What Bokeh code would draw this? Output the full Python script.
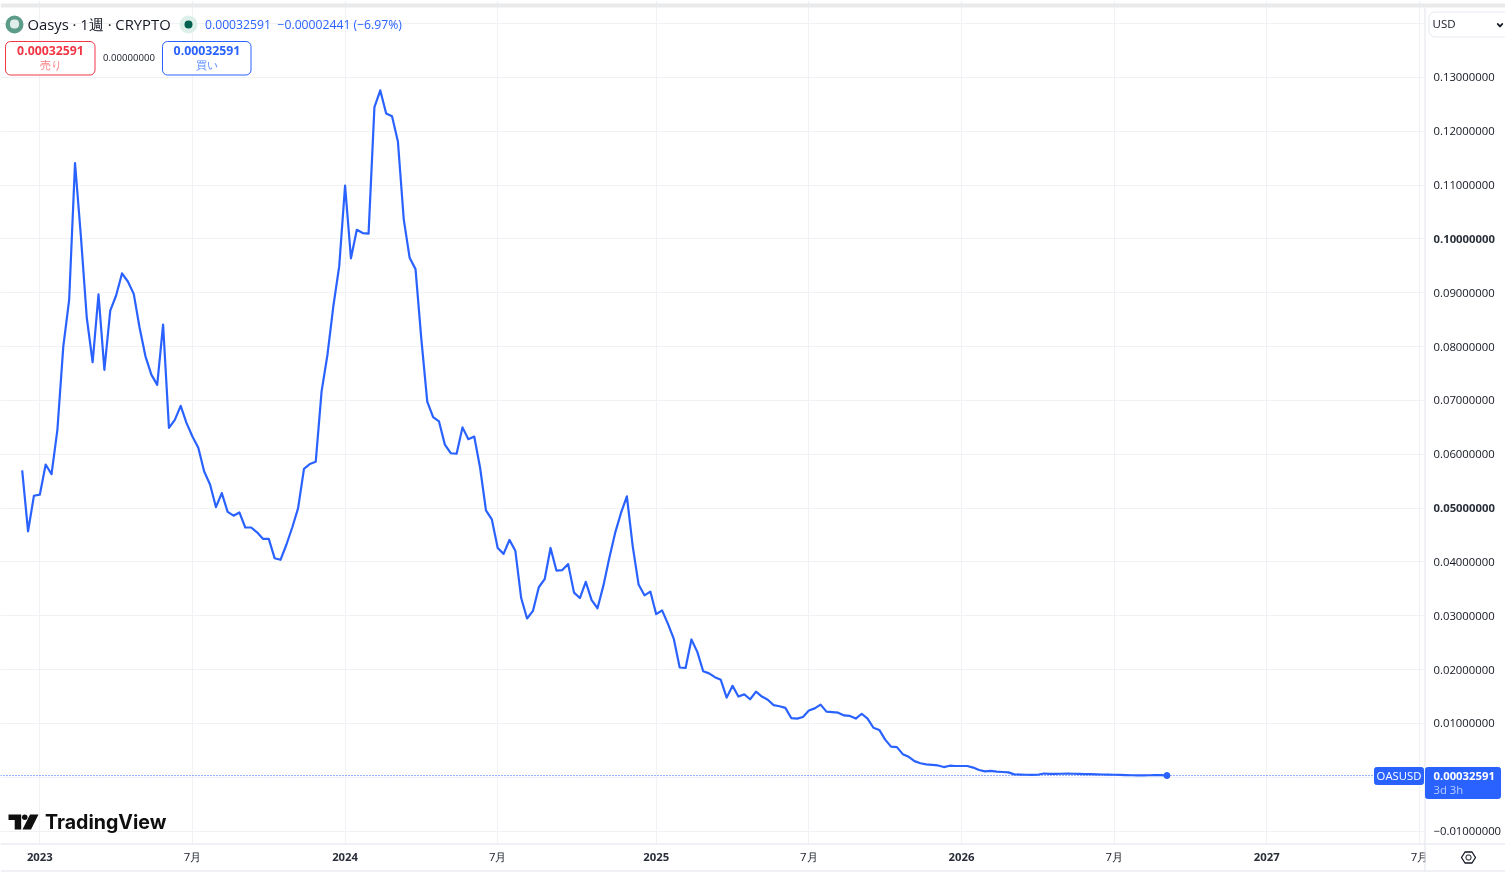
from bokeh.embed import file_html
from bokeh.layouts import column
from bokeh.models import BoxAnnotation, FixedTicker, Label, PolyAnnotation, Span
from bokeh.plotting import figure
from bokeh.resources import INLINE

# weekly closes of OASUSD
closes_2022 = [0.0570, 0.0457, 0.0523]
closes_2023 = [0.0525, 0.0581, 0.0563, 0.0646, 0.0800, 0.0887, 0.1141, 0.1005, 0.0854, 0.0771,
               0.0897, 0.0757, 0.0867, 0.0895, 0.0936, 0.0921, 0.0898, 0.0835, 0.0782, 0.0748,
               0.0729, 0.0841, 0.0649, 0.0664, 0.0690, 0.0658, 0.0633, 0.0612, 0.0568, 0.0544,
               0.0502, 0.0528, 0.0493, 0.0486, 0.0492, 0.0464, 0.0464, 0.0455, 0.0443, 0.0443,
               0.0407, 0.0404, 0.0432, 0.0464, 0.0500, 0.0573, 0.0582, 0.0586, 0.0717, 0.0785,
               0.0875, 0.0949]
closes_2024 = [0.1099, 0.0964, 0.1017, 0.1011, 0.1010, 0.1245, 0.1276, 0.1233, 0.1228, 0.1181,
               0.1036, 0.0965, 0.0944, 0.0813, 0.0698, 0.0669, 0.0661, 0.0618, 0.0602, 0.0601,
               0.0650, 0.0628, 0.0633, 0.0575, 0.0496, 0.0479, 0.0426, 0.0415, 0.0441, 0.0421,
               0.0333, 0.0295, 0.0309, 0.0353, 0.0368, 0.0426, 0.0384, 0.0385, 0.0396, 0.0343,
               0.0333, 0.0363, 0.0329, 0.0314, 0.0356, 0.0407, 0.0454, 0.0491, 0.0522, 0.0429,
               0.0358, 0.0338, 0.0345]
closes_2025 = [0.0303, 0.0310, 0.0285, 0.0257, 0.0204, 0.0203, 0.0256, 0.0233, 0.0197, 0.0193,
               0.0186, 0.0181, 0.0148, 0.0170, 0.0150, 0.0154, 0.0145, 0.0159, 0.0150, 0.0144,
               0.0134, 0.0132, 0.0129, 0.0110, 0.0109, 0.0112, 0.0124, 0.0128, 0.0135, 0.0122,
               0.0121, 0.0120, 0.0115, 0.0114, 0.0109, 0.0118, 0.0109, 0.0092, 0.0088, 0.0070,
               0.0057, 0.0056, 0.0043, 0.0038, 0.0030, 0.0026, 0.0024, 0.0023, 0.0022, 0.0019,
               0.00215, 0.0021]
closes_2026 = [0.0021, 0.0021, 0.0018, 0.00135, 0.0011, 0.0012, 0.00104, 0.00098, 0.00091, 0.00054,
               0.00050, 0.00047, 0.00045, 0.00047, 0.00070, 0.00062, 0.00063, 0.00066, 0.00067, 0.00066,
               0.00063, 0.00060, 0.00058, 0.00055, 0.00052, 0.00050, 0.00047, 0.00045, 0.00042, 0.00038,
               0.00036, 0.00036, 0.00038, 0.00042, 0.00040, 0.00032591]
closes = closes_2022 + closes_2023 + closes_2024 + closes_2025 + closes_2026
weeks = list(range(-len(closes_2022), len(closes) - len(closes_2022)))
last_close = closes[-1]

# weeks counted from the first bar of 2023
week_ticks = [26, 78, 131, 183, 235]
week_tick_labels = ["7月", "7月", "7月", "7月", "7月"]
year_ticks = [0, 52, 105, 157, 209]
year_tick_labels = ["2023", "2024", "2025", "2026", "2027"]
price_ticks = [0.14, 0.13, 0.12, 0.11, 0.09, 0.08, 0.07, 0.06, 0.04, 0.03, 0.02, 0.01, 0, -0.01]
price_tick_labels = ["", "0.13000000", "0.12000000", "0.11000000", "0.09000000", "0.08000000", "0.07000000",
                     "0.06000000", "0.04000000", "0.03000000", "0.02000000", "0.01000000", "", "−0.01000000"]
strong_price_ticks = [0.10, 0.05]
strong_price_labels = ["0.10000000", "0.05000000"]

BLUE = "#2962ff"
RED = "#f23645"
INK = "#131722"
FONT = "Open Sans"

X_START, X_END = -6.695, 235.87
Y_BOTTOM, Y_TOP = -0.0123, 0.1443

p = figure(width=1505, height=873, output_backend="svg", toolbar_location=None,
           x_range=(X_START, X_END), y_range=(Y_BOTTOM, Y_TOP), y_axis_location="right",
           min_border_left=0, min_border_top=0, min_border_right=81, min_border_bottom=30,
           outline_line_color=None, background_fill_color="white", frame_align=False)
p.styles = {"position": "fixed", "left": "0px", "top": "0px"}

p.xaxis.ticker = FixedTicker(ticks=week_ticks + year_ticks)
p.xaxis.major_label_overrides = {**dict(zip(week_ticks, week_tick_labels)), **{t: "" for t in year_ticks}}
p.yaxis.ticker = FixedTicker(ticks=price_ticks + strong_price_ticks)
p.yaxis.major_label_overrides = {**dict(zip(price_ticks, price_tick_labels)), **{t: "" for t in strong_price_ticks}}
for axis in (p.xaxis[0], p.yaxis[0]):
    axis.axis_line_color = None
    axis.major_tick_line_color = None
    axis.minor_tick_line_color = None
    axis.major_tick_in = 0
    axis.major_tick_out = 0
    axis.major_label_text_font = FONT
    axis.major_label_text_font_size = "11.3px"
    axis.major_label_text_color = INK
p.xaxis.major_label_standoff = 5
p.yaxis.major_label_standoff = 9
p.xgrid.grid_line_color = "#f1f2f5"
p.ygrid.grid_line_color = "#f1f2f5"

p.add_layout(Span(location=last_close, dimension="width", line_color=BLUE, line_width=1, line_dash="1 2"))
p.line(weeks, closes, line_color=BLUE, line_width=2.2, line_join="round")
p.scatter(weeks[-1:], closes[-1:], size=6, color=BLUE)

# second figure over the chart: its frame is the whole page, so the tags and panels are not cut at the axes
chrome = figure(width=1505, height=873, output_backend="svg", toolbar_location=None,
                x_range=(X_START, X_START + (X_END - X_START) * 1505 / 1424),
                y_range=(Y_TOP - (Y_TOP - Y_BOTTOM) * 873 / 843, Y_TOP),
                x_axis_type=None, y_axis_type=None, min_border=0, outline_line_color=None,
                background_fill_color=None, border_fill_color=None, frame_align=False)
chrome.styles = {"position": "fixed", "left": "0px", "top": "0px"}


def box(left, right, top, bottom, fill="white", line=None, radius=0):
    chrome.add_layout(BoxAnnotation(left=left, right=right, top=top, bottom=bottom,
                                    left_units="canvas", right_units="canvas", top_units="canvas", bottom_units="canvas",
                                    fill_color=fill, fill_alpha=1, line_color=line, line_alpha=1, line_width=1,
                                    border_radius=radius, level="annotation"))


def label(x, y, text, size=13, color=INK, align="left", style="normal", font=FONT, x_units="canvas", y_units="canvas"):
    chrome.add_layout(Label(x=x, y=y, text=text, x_units=x_units, y_units=y_units, text_font=font,
                            text_font_size=f"{size}px", text_color=color, text_align=align,
                            text_baseline="middle", text_font_style=style, level="annotation"))


def poly(xs, ys, fill=None, line=None):
    chrome.add_layout(PolyAnnotation(xs=xs, ys=ys, xs_units="canvas", ys_units="canvas",
                                     fill_color=fill, fill_alpha=1 if fill else 0, line_color=line, line_alpha=1,
                                     line_width=1.3, level="annotation"))


# axis frame
box(1425, 1505, 844, 870)
box(0, 1505, 3, 7, fill="#e9eaec")
box(1424, 1425, 7, 871, fill="#e0e3eb")
box(0, 1505, 843, 844, fill="#e0e3eb")
box(0, 1505, 870, 871, fill="#e0e3eb")

for tick, text in zip(strong_price_ticks, strong_price_labels):
    label(1433, tick, text, size=11.3, color="#2a2e39", style="bold", y_units="data")
for tick, text in zip(year_ticks, year_tick_labels):
    label(tick, 856, text, size=11.3, color="#2a2e39", align="center", style="bold", x_units="data")

# header
box(5, 23, 15, 33, fill="#5c9c88", radius=9)
box(9.5, 18.5, 19, 28, fill="#dfeee9", radius=4)
label(27, 23.5, "Oasys · 1週 · CRYPTO", size=14.8)
box(179, 197, 15, 33, fill="#dcefe9", radius=9)
box(184, 192, 20, 28, fill="#00614e", radius=4)
label(204.5, 24, "0.00032591", size=12.2, color=BLUE)
label(277, 24, "−0.00002441 (−6.97%)", size=12.2, color=BLUE)

box(5, 94.5, 41, 74.5, line=RED, radius=5)
label(50, 50, "0.00032591", size=12.3, color=RED, align="center", style="bold")
label(50, 64, "売り", size=10.5, color="#f77c80", align="center")
label(128.5, 57, "0.00000000", size=9.6, align="center")
box(162, 250.5, 41, 74.5, line=BLUE, radius=5)
label(206.5, 50, "0.00032591", size=12.3, color=BLUE, align="center", style="bold")
label(206.5, 64, "買い", size=10.5, color="#5b8aff", align="center")

# currency selector
box(1428.5, 1510, 11.5, 36.5, line="#e6e8ee", radius=6)
label(1432, 23, "USD", size=11.5)
poly([1497, 1499.5, 1502, 1502, 1499.5, 1497], [23, 25.5, 23, 23.6, 26.2, 23.6], fill=INK, line=INK)

# last price tags
box(1374, 1423, 767, 784, fill=BLUE, line=BLUE, radius=2)
label(1398.5, 775, "OASUSD", size=11.3, color="white", align="center")
box(1425, 1500, 767, 798, fill=BLUE, line=BLUE, radius=2)
label(1433, 775, "0.00032591", size=11.3, color="white", style="bold")
label(1433, 789, "3d 3h", size=11.3, color="#b9cdff")

# TradingView mark
poly([8, 20.7, 20.7, 14.2, 14.2, 8], [814, 814, 829, 829, 819.5, 819.5], fill="#0f0f0f")
box(21.5, 27, 814, 819.5, fill="#0f0f0f", radius=3)
poly([29.5, 38, 30.5, 22], [814, 814, 829, 829], fill="#0f0f0f")
label(44.5, 821, "TradingView", size=19.6, color="#0f0f0f", style="bold", font="Inter")

# settings button
poly([1461, 1464.5, 1471.5, 1475, 1471.5, 1464.5], [857, 851.5, 851.5, 857, 862.5, 862.5], line=INK)
box(1465.5, 1470.5, 854.5, 859.5, line=INK, radius=2)

open("out.html", "w").write(file_html(column(p, chrome), INLINE))
